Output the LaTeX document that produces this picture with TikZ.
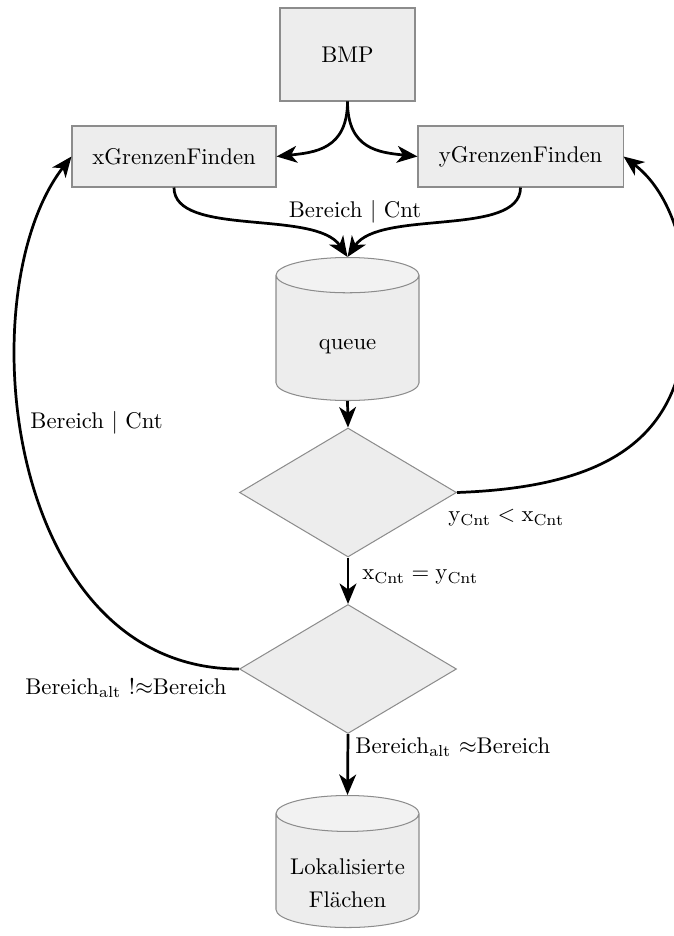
\documentclass[tikz,border=0pt]{standalone}
\usetikzlibrary{shapes.geometric,arrows.meta}
\newcommand{\pxu}{0.44pt}
\definecolor{boxfill}{HTML}{EDEDED}
\definecolor{boxtop}{HTML}{F2F2F2}
\definecolor{boxline}{HTML}{8C8C8C}
\tikzset{
  proc/.style={rectangle, draw=boxline, fill=boxfill, line width=0.45pt,
    inner sep=2pt},
  store/.style={cylinder, shape border rotate=90, draw=boxline,
    line width=0.45pt, cylinder uses custom fill,
    cylinder body fill=boxfill, cylinder end fill=boxtop,
    minimum width=143*\pxu, inner sep=2pt, anchor=north},
  decide/.style={diamond, draw=boxline, fill=boxfill, line width=0.45pt,
    minimum width=217*\pxu, minimum height=129*\pxu, inner sep=0pt},
  flow/.style={-{Stealth[length=9pt,width=7.4pt,inset=2.6pt]}, line width=1.2pt},
  lbl/.style={inner sep=0pt}
}
\begin{document}
\begin{tikzpicture}[x=\pxu, y=-\pxu]
  \useasboundingbox (0,0) rectangle (673,936);

  % process boxes
  \node[proc, minimum width=135*\pxu, minimum height=93*\pxu] (bmp) at (347.5,54.5) {BMP};
  \node[proc, minimum width=204*\pxu, minimum height=61*\pxu] (xg) at (174,156.5) {xGrenzenFinden};
  \node[proc, minimum width=205*\pxu, minimum height=61*\pxu] (yg) at (520.5,156.5) {yGrenzenFinden};

  % data stores (text lowered a little inside the body)
  \node[store, aspect=0.53, minimum height=143*\pxu] (queue) at (347.5,257)
    {\raisebox{-2.6pt}[\height][\depth]{queue}};
  \node[store, aspect=0.29, minimum height=132*\pxu] (flaechen) at (347.5,795)
    {\raisebox{-5pt}[\height][\depth]{\begin{tabular}{@{}c@{}}Lokalisierte\\[2.6pt]Fl\"achen\end{tabular}}};

  % decisions
  \node[decide] (d1) at (348,492.5) {};
  \node[decide] (d2) at (348,669) {};

  % edge labels
  \node[lbl] (lbin) at (355,212) {Bereich $|$ Cnt};
  \node[lbl, anchor=west] (lbback) at (30,423) {Bereich $|$ Cnt};
  \node[lbl, anchor=west] (lbyx) at (448,518) {$\mathrm{y}_{\mathrm{Cnt}} < \mathrm{x}_{\mathrm{Cnt}}$};
  \node[lbl, anchor=west] (lbxy) at (362,577) {$\mathrm{x}_{\mathrm{Cnt}} = \mathrm{y}_{\mathrm{Cnt}}$};
  \node[lbl, anchor=east] (lbne) at (227,688) {Bereich$_{\mathrm{alt}}$ !$\approx$Bereich};
  \node[lbl, anchor=west] (lbeq) at (355,747) {Bereich$_{\mathrm{alt}}$ $\approx$Bereich};

  % connectors
  \draw[flow] (bmp.south) .. controls +(0,48) and +(38,-4) .. (xg.east);
  \draw[flow] (bmp.south) .. controls +(0,48) and +(-38,-4) .. (yg.west);
  \draw[flow] (xg.south) .. controls +(0,50) and +(-32,-48) .. (queue.north);
  \draw[flow] (yg.south) .. controls +(0,50) and +(32,-48) .. (queue.north);
  \draw[flow] (queue.south) -- (d1.north);
  \draw[flow] (d1.east) .. controls +(170,-6) and +(0,120) .. ++(230,-187)
                        .. controls +(0,-70) and +(40,30) .. (yg.east);
  \draw[flow] (d1.south) -- (d2.north);
  \draw[flow] (d2.west) .. controls +(-235,0) and +(-104,134) .. (xg.west);
  \draw[flow] (d2.south) -- (flaechen.north);
\end{tikzpicture}
\end{document}
